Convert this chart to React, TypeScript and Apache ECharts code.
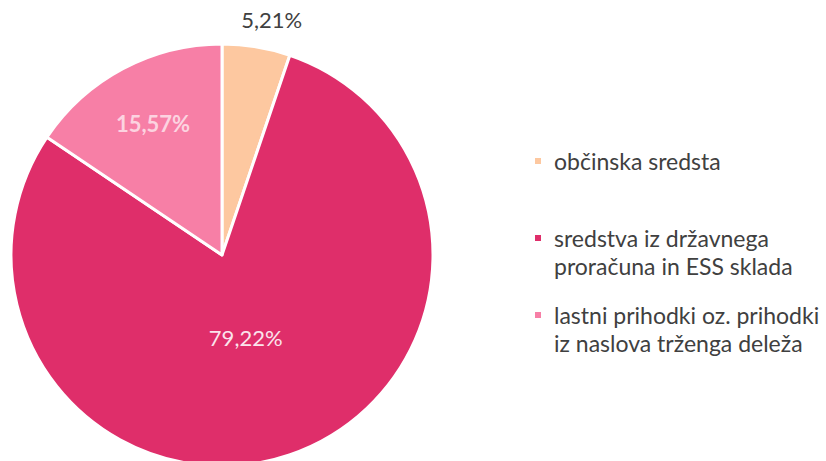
import React, { useEffect, useRef } from "react";
import * as echarts from "echarts";

const categories = [
  "občinska sredsta",
  "sredstva iz državnega\nproračuna in ESS sklada",
  "lastni prihodki oz. prihodki\niz naslova trženga deleža",
];
const values = [5.21, 79.22, 15.57];
const colors = ["#FDC8A0", "#DF2E6A", "#F77FA6"];
const labelColors = ["#404040", "#FBE4EC", "#FCD3E0"];

const fmt = (v: number) => v.toFixed(2).replace(".", ",") + "%";

// square at the top of a tall box, so the marker sits beside the first text line
const topSquare = "path://M0,0H8V8H0Z M0,35.999H8V36H0Z";

export default function App() {
  const ref = useRef<HTMLDivElement>(null);
  useEffect(() => {
    const chart = echarts.init(ref.current!, null, { renderer: "svg" });
    const font = "Lato, 'Open Sans', sans-serif";
    const textStyle = {
      fontFamily: font,
      fontSize: 23,
      color: "#404040",
      lineHeight: 28,
      padding: [0, 0, 0, 7],
    };
    const legendBase = {
      orient: "vertical" as const,
      left: 533,
      padding: 0,
      itemGap: 0,
      textStyle,
    };
    chart.setOption({
      animation: false,
      backgroundColor: "#ffffff",
      legend: [
        {
          ...legendBase,
          data: [categories[0]],
          top: 147,
          icon: "rect",
          itemWidth: 8,
          itemHeight: 8,
        },
        {
          ...legendBase,
          data: [categories[1]],
          top: 224,
          icon: topSquare,
          itemWidth: 8,
          itemHeight: 36,
        },
        {
          ...legendBase,
          data: [categories[2]],
          top: 301,
          icon: topSquare,
          itemWidth: 8,
          itemHeight: 36,
        },
      ],
      series: [
        {
          type: "pie",
          center: [222, 255],
          radius: 211,
          startAngle: 90,
          clockwise: true,
          avoidLabelOverlap: false,
          itemStyle: { borderColor: "#ffffff", borderWidth: 3 },
          label: {
            position: "inside",
            fontFamily: font,
            fontSize: 22,
            formatter: (p: any) => fmt(p.value),
          },
          labelLine: { show: false, length: 12, length2: 0 },
          labelLayout: (p: any) => {
            if (p.dataIndex === 0) return { dx: -22, dy: -15 };
            if (p.dataIndex === 2) return { dx: -18, dy: -36 };
            if (p.dataIndex === 1) return { dx: -11, dy: -20 };
            return {};
          },
          emphasis: { disabled: true },
          data: categories.map((name, i) => ({
            name,
            value: values[i],
            itemStyle: { color: colors[i] },
            label:
              i === 0
                ? { position: "outside", color: labelColors[i] }
                : { color: labelColors[i], fontWeight: i === 2 ? "bold" : "normal" },
            labelLine: { show: false },
          })),
        },
      ],
    });
    return () => chart.dispose();
  }, []);
  return (
    <div
      ref={ref}
      style={{ position: "absolute", left: 0, top: 0, width: 826, height: 461 }}
    />
  );
}
